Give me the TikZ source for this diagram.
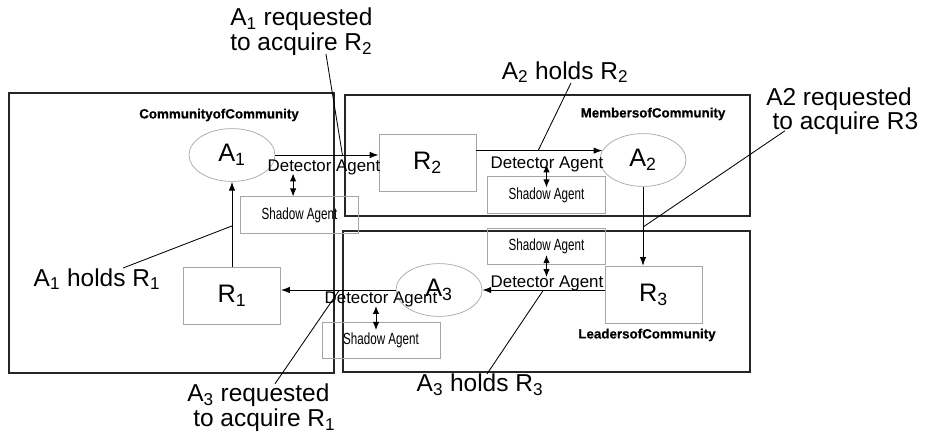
\documentclass[tikz,border=0pt]{standalone}
\usepackage{fontspec}
\setmainfont{Liberation Sans}
\newfontfamily\narrowsf[FakeStretch=0.72]{Liberation Sans}
\newfontfamily\heavysf[FakeBold=0.6]{Liberation Sans Bold}
\usetikzlibrary{arrows.meta,calc,fit,positioning,shapes.geometric}
\tikzset{
  diagarrow/.style={-{Latex[length=2.2mm,width=1.6mm]}, line width=0.7pt,
    draw=black},
  diagtwoway/.style={{Latex[length=2mm,width=1.6mm]}-{Latex[length=2mm,width=1.6mm]},
    line width=0.7pt, draw=black},
  diagleader/.style={line width=0.6pt, draw=black},
  diaggroup/.style={draw=black!85, line width=0.8pt, inner sep=0pt},
  diaggrouplabel/.style={inner sep=0pt,
    font=\heavysf\fontsize{9.5}{11}\selectfont},
  diagagent/.style={ellipse, draw=black!35, line width=0.5pt,
    minimum width=21.5mm, minimum height=13.2mm, inner sep=0pt,
    font=\fontsize{18}{20}\selectfont},
  diagres/.style={draw=black!35, line width=0.5pt, minimum width=24.3mm,
    minimum height=14.4mm, inner sep=0pt, font=\fontsize{18}{20}\selectfont},
  diagshadow/.style={draw=black!35, line width=0.5pt, minimum width=29.5mm,
    minimum height=9.1mm, inner sep=0pt,
    font=\narrowsf\fontsize{11.5}{13}\selectfont},
  diagdetector/.style={inner sep=0pt, font=\fontsize{12}{14}\selectfont},
  diagnote/.style={inner sep=0pt, align=left,
    font=\fontsize{17.4}{17.8}\selectfont}
}

\begin{document}
\begin{tikzpicture}[x=0.25mm, y=-0.25mm]
  \useasboundingbox (0,0) rectangle (927,434);

  % communities
  \node[diaggroup, fit={(9,93)(334,373)}] (coc) {};
  \node[diaggroup, fit={(345,95)(750,216)}] (moc) {};
  \node[diaggroup, fit={(343,231)(750,372)}] (loc) {};
  \node[diaggrouplabel] (coclabel) at (219,115) {CommunityofCommunity};
  \node[diaggrouplabel] (moclabel) at (653,114) {MembersofCommunity};
  \node[diaggrouplabel] (loclabel) at (647,335) {LeadersofCommunity};

  % agents and resources
  \node[diagagent] (A1) at (232,155) {A\textsubscript{1}};
  \node[diagres, below=21.25mm of A1] (R1) {R\textsubscript{1}};
  \node[diagres] (R2) at (427.5,163) {R\textsubscript{2}};
  \node[diagagent] (A2) at (643,160) {A\textsubscript{2}};
  \node[diagres] (R3) at (653.5,295) {R\textsubscript{3}};
  \node[diagagent] (A3) at (439,290) {A\textsubscript{3}};

  % shadow and detector agents
  \node[diagshadow] (S1) at (299.5,215) {Shadow Agent};
  \node[diagshadow] (S2) at (546.5,195) {Shadow Agent};
  \node[diagshadow] (S3) at (546.5,246.5) {Shadow Agent};
  \node[diagshadow] (S4) at (381,340.5) {Shadow Agent};
  \node[diagdetector] (det1) at (324,167) {Detector Agent};
  \node[diagdetector] (det2) at (547,164) {Detector Agent};
  \node[diagdetector] (det3) at (547,283) {Detector Agent};
  \node[diagdetector] (det4) at (381,299) {Detector Agent};

  % notes
  \node[diagnote] (hold1) at (97,279) {A\textsubscript{1} holds R\textsubscript{1}};
  \node[diagnote, anchor=west] (req1) at (230,32)
    {A\textsubscript{1} requested\\to acquire R\textsubscript{2}};
  \node[diagnote] (hold2) at (565,72) {A\textsubscript{2} holds R\textsubscript{2}};
  \node[diagnote, anchor=west, font=\fontsize{17.4}{15.8}\selectfont] (req2)
    at (766,111) {A2 requested\\\hspace*{1.6mm}to acquire R3};
  \node[diagnote] (hold3) at (480,385) {A\textsubscript{3} holds R\textsubscript{3}};
  \node[diagnote, anchor=west] (req3) at (187,408)
    {A\textsubscript{3} requested\\\hspace*{1.5mm}to acquire R\textsubscript{1}};

  % wait-for cycle
  \draw[diagarrow] (R1.north) -- (A1.south);
  \draw[diagarrow] (A1.east) -- (A1.east -| R2.west);
  \draw[diagarrow] (R2.east |- A2.167) -- (A2.167);
  \draw[diagarrow] (A2.south) -- (A2.south |- R3.north);
  \draw[diagarrow] (R3.west |- A3.east) -- (A3.east);
  \draw[diagarrow] (A3.west) -- (A3.west -| R1.east);

  % detector <-> shadow
  \draw[diagtwoway] ([xshift=-1.6mm,yshift=5.75mm]S1.north)
    -- ([xshift=-1.6mm]S1.north);
  \draw[diagtwoway] ([yshift=3mm]S2.north) -- ([yshift=-2.75mm]S2.north);
  \draw[diagtwoway] ([yshift=2.5mm]S3.south) -- ([yshift=-3mm]S3.south);
  \draw[diagtwoway] ([xshift=-1.25mm,yshift=4mm]S4.north)
    -- ([xshift=-1.25mm,yshift=-2mm]S4.north);

  % leader lines
  \coordinate (onR1A1) at ($(R1.north)!0.48!(A1.south)$);
  \coordinate (onA1R2) at ($(A1.east)!0.65!(A1.east -| R2.west)$);
  \coordinate (onR2A2) at ($(R2.east |- A2.167)!0.49!(A2.167)$);
  \coordinate (onA2R3) at ($(A2.south)!0.51!(A2.south |- R3.north)$);
  \coordinate (onR3A3) at ($(R3.west |- A3.east)!0.5!(A3.east)$);
  \coordinate (onA3R1) at ($(A3.west)!0.49!(A3.west -| R1.east)$);
  \draw[diagleader] ([xshift=6.5mm]hold1.north) -- (onR1A1);
  \draw[diagleader] ([xshift=24mm,yshift=0.5mm]req1.south west) -- (onA1R2);
  \draw[diagleader] ([xshift=1.5mm]hold2.south) -- (onR2A2);
  \draw[diagleader] ([xshift=4.75mm,yshift=1mm]req2.south west) -- (onA2R3);
  \draw[diagleader] ([xshift=1.75mm]hold3.north) -- (onR3A3);
  \draw[diagleader] ([xshift=22mm]req3.north west) -- (onA3R1);
\end{tikzpicture}
\end{document}
